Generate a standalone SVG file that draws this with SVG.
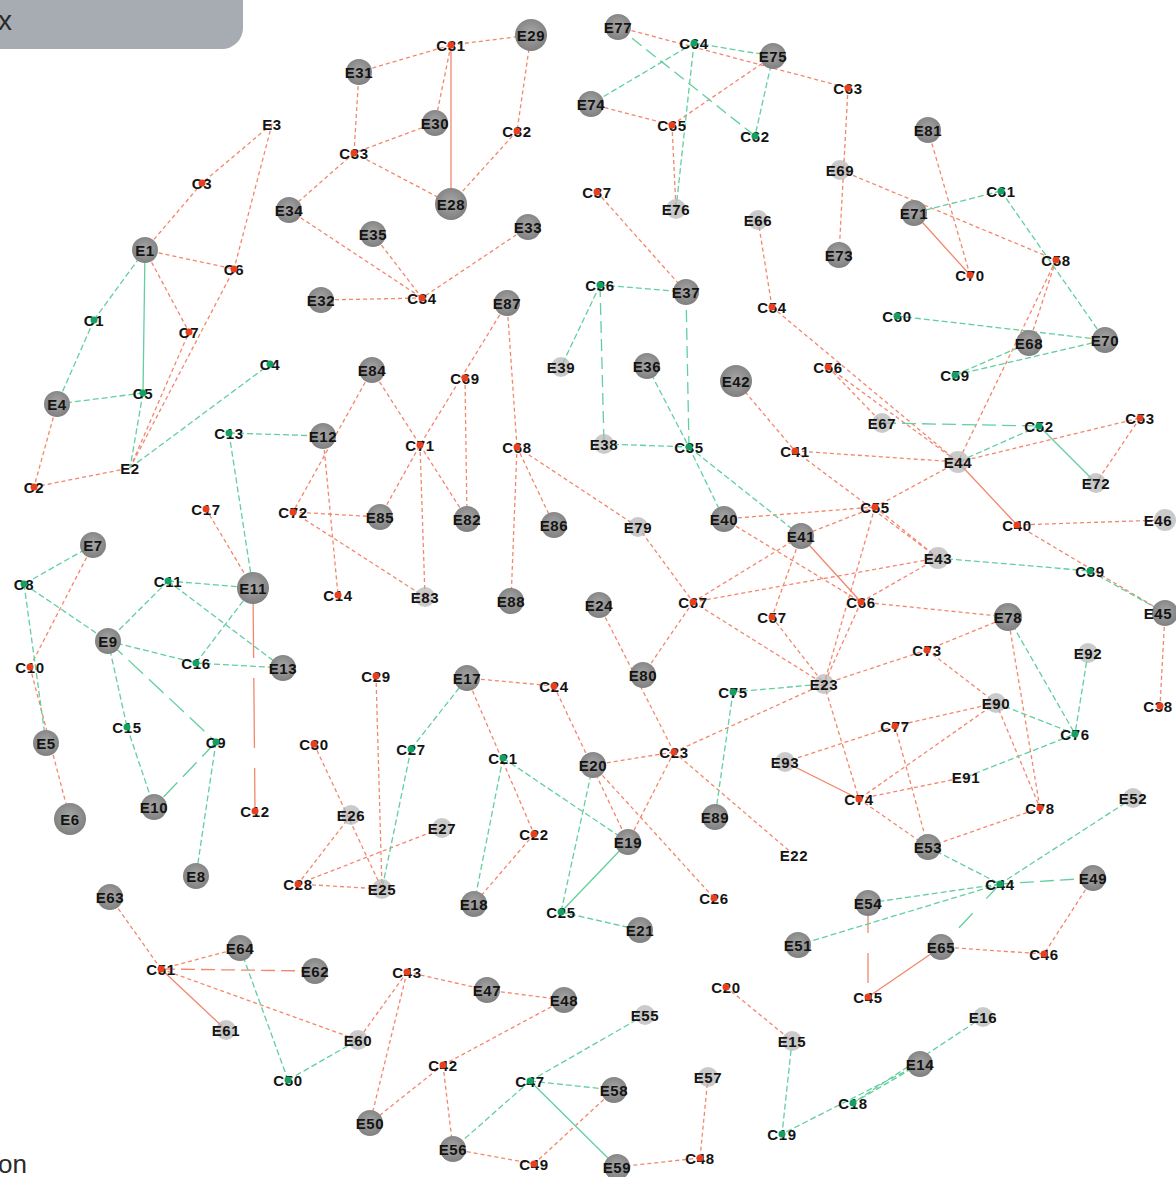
<svg xmlns="http://www.w3.org/2000/svg" width="1176" height="1177" viewBox="0 0 1176 1177">
<style>
text{font-family:"Liberation Sans",Arial,sans-serif;font-size:15px;font-weight:bold;fill:#141414;text-anchor:middle;dominant-baseline:central;letter-spacing:0.6px}
.cap{font-weight:normal;font-size:28px;fill:#2b2b2b;text-anchor:start;dominant-baseline:auto;letter-spacing:0}
#connectors line{stroke-width:1.3;fill:none}
.r{stroke:#f4866c;stroke-dasharray:4 3}
.g{stroke:#62cf9f;stroke-dasharray:6 3}
.s{stroke-dasharray:none}
.e{fill:url(#eg)}
.f{fill:#b4b4b4;opacity:.7}
.dr{fill:#e8401c}
.dg{fill:#14a060}
</style>
<defs>
<radialGradient id="eg" cx="50%" cy="45%" r="55%">
<stop offset="0" stop-color="#a8a8a8"/>
<stop offset="1" stop-color="#7f7f7f"/>
</radialGradient>
</defs>
<rect width="1176" height="1177" fill="#ffffff"/>
<g id="caption-box">
<path d="M0 0H243V28A21 21 0 0 1 222 49H0Z" fill="#a7acb2"/>
<text class="cap" x="-2" y="30">x</text>
</g>
<text class="cap" x="-2" y="1173" style="font-size:26px">on</text>
<g id="connectors">
<line class="r" x1="359" y1="72" x2="451" y2="45"/>
<line class="r" x1="451" y1="45" x2="531" y2="35"/>
<line class="r" x1="451" y1="45" x2="435" y2="123"/>
<line class="r s" x1="451" y1="45" x2="451" y2="204"/>
<line class="r" x1="531" y1="35" x2="517" y2="131"/>
<line class="r" x1="517" y1="131" x2="451" y2="204"/>
<line class="r" x1="435" y1="123" x2="354" y2="153"/>
<line class="r" x1="354" y1="153" x2="359" y2="72"/>
<line class="r" x1="354" y1="153" x2="451" y2="204"/>
<line class="r" x1="354" y1="153" x2="289" y2="210"/>
<line class="r" x1="289" y1="210" x2="422" y2="298"/>
<line class="r" x1="373" y1="234" x2="422" y2="298"/>
<line class="r" x1="528" y1="227" x2="422" y2="298"/>
<line class="r" x1="321" y1="300" x2="422" y2="298"/>
<line class="r" x1="272" y1="124" x2="202" y2="183"/>
<line class="r" x1="202" y1="183" x2="145" y2="250"/>
<line class="r" x1="272" y1="124" x2="234" y2="269"/>
<line class="r" x1="145" y1="250" x2="234" y2="269"/>
<line class="r" x1="145" y1="250" x2="189" y2="332"/>
<line class="r" x1="130" y1="468" x2="189" y2="332"/>
<line class="r" x1="130" y1="468" x2="234" y2="269"/>
<line class="r" x1="57" y1="404" x2="34" y2="487"/>
<line class="r" x1="34" y1="487" x2="130" y2="468"/>
<line class="r" x1="372" y1="370" x2="293" y2="512"/>
<line class="r" x1="323" y1="436" x2="338" y2="595"/>
<line class="r" x1="293" y1="512" x2="380" y2="517"/>
<line class="r" x1="293" y1="512" x2="425" y2="597"/>
<line class="r" x1="380" y1="517" x2="420" y2="445"/>
<line class="r" x1="372" y1="370" x2="420" y2="445"/>
<line class="r" x1="507" y1="303" x2="420" y2="445"/>
<line class="r" x1="465" y1="378" x2="467" y2="519"/>
<line class="r" x1="420" y1="445" x2="467" y2="519"/>
<line class="r" x1="420" y1="445" x2="425" y2="597"/>
<line class="r" x1="507" y1="303" x2="517" y2="447"/>
<line class="r" x1="517" y1="447" x2="511" y2="601"/>
<line class="r" x1="517" y1="447" x2="554" y2="525"/>
<line class="r" x1="517" y1="447" x2="638" y2="527"/>
<line class="r" x1="597" y1="192" x2="686" y2="292"/>
<line class="r" x1="736" y1="381" x2="795" y2="451"/>
<line class="r" x1="795" y1="451" x2="958" y2="462"/>
<line class="r" x1="795" y1="451" x2="938" y2="558"/>
<line class="r" x1="758" y1="220" x2="772" y2="307"/>
<line class="r" x1="772" y1="307" x2="958" y2="462"/>
<line class="r" x1="828" y1="367" x2="958" y2="462"/>
<line class="r" x1="828" y1="367" x2="882" y2="423"/>
<line class="r" x1="958" y1="462" x2="1140" y2="418"/>
<line class="r" x1="1140" y1="418" x2="1096" y2="483"/>
<line class="r" x1="1056" y1="260" x2="1029" y2="343"/>
<line class="r" x1="1056" y1="260" x2="958" y2="462"/>
<line class="r" x1="958" y1="462" x2="875" y2="507"/>
<line class="r s" x1="958" y1="462" x2="1017" y2="525"/>
<line class="r" x1="1017" y1="525" x2="1163" y2="520"/>
<line class="r" x1="1017" y1="525" x2="1165" y2="613"/>
<line class="r" x1="1165" y1="613" x2="1160" y2="706"/>
<line class="r" x1="840" y1="170" x2="1056" y2="260"/>
<line class="r s" x1="914" y1="213" x2="970" y2="275"/>
<line class="r" x1="928" y1="130" x2="970" y2="275"/>
<line class="r" x1="848" y1="88" x2="839" y2="255"/>
<line class="r" x1="618" y1="27" x2="848" y2="88"/>
<line class="r" x1="591" y1="104" x2="672" y2="125"/>
<line class="r" x1="672" y1="125" x2="773" y2="56"/>
<line class="r" x1="672" y1="125" x2="676" y2="209"/>
<line class="r" x1="206" y1="509" x2="253" y2="588"/>
<line class="r" x1="93" y1="545" x2="30" y2="667"/>
<line class="r" x1="30" y1="667" x2="70" y2="819"/>
<line class="r" style="stroke-dasharray:70 20" x1="253" y1="588" x2="255" y2="811"/>
<line class="r" x1="376" y1="676" x2="382" y2="889"/>
<line class="r" x1="314" y1="744" x2="382" y2="889"/>
<line class="r" x1="351" y1="815" x2="298" y2="884"/>
<line class="r" x1="298" y1="884" x2="382" y2="889"/>
<line class="r" x1="298" y1="884" x2="442" y2="828"/>
<line class="r" x1="467" y1="678" x2="554" y2="686"/>
<line class="r" x1="467" y1="678" x2="534" y2="834"/>
<line class="r" x1="534" y1="834" x2="474" y2="904"/>
<line class="r" x1="554" y1="686" x2="628" y2="842"/>
<line class="r" x1="593" y1="765" x2="674" y2="752"/>
<line class="r" x1="593" y1="765" x2="714" y2="898"/>
<line class="r" x1="674" y1="752" x2="628" y2="842"/>
<line class="r" x1="599" y1="605" x2="674" y2="752"/>
<line class="r" x1="693" y1="602" x2="643" y2="675"/>
<line class="r" x1="674" y1="752" x2="824" y2="684"/>
<line class="r" x1="674" y1="752" x2="794" y2="855"/>
<line class="r" x1="638" y1="527" x2="693" y2="602"/>
<line class="r" x1="693" y1="602" x2="801" y2="536"/>
<line class="r" x1="693" y1="602" x2="938" y2="558"/>
<line class="r" x1="693" y1="602" x2="824" y2="684"/>
<line class="r" x1="724" y1="519" x2="875" y2="507"/>
<line class="r" x1="724" y1="519" x2="861" y2="602"/>
<line class="r" x1="875" y1="507" x2="801" y2="536"/>
<line class="r s" x1="801" y1="536" x2="861" y2="602"/>
<line class="r" x1="801" y1="536" x2="772" y2="617"/>
<line class="r" x1="772" y1="617" x2="824" y2="684"/>
<line class="r" x1="875" y1="507" x2="824" y2="684"/>
<line class="r" x1="875" y1="507" x2="938" y2="558"/>
<line class="r" x1="861" y1="602" x2="938" y2="558"/>
<line class="r" x1="861" y1="602" x2="1008" y2="617"/>
<line class="r" x1="861" y1="602" x2="824" y2="684"/>
<line class="r" x1="1008" y1="617" x2="927" y2="650"/>
<line class="r" x1="927" y1="650" x2="824" y2="684"/>
<line class="r" x1="927" y1="650" x2="996" y2="703"/>
<line class="r" x1="1008" y1="617" x2="1040" y2="808"/>
<line class="r" x1="895" y1="726" x2="996" y2="703"/>
<line class="r" x1="895" y1="726" x2="785" y2="762"/>
<line class="r" x1="996" y1="703" x2="859" y2="799"/>
<line class="r" x1="996" y1="703" x2="1040" y2="808"/>
<line class="r" x1="895" y1="726" x2="928" y2="847"/>
<line class="r s" x1="785" y1="762" x2="859" y2="799"/>
<line class="r" x1="859" y1="799" x2="966" y2="777"/>
<line class="r" x1="859" y1="799" x2="928" y2="847"/>
<line class="r" x1="824" y1="684" x2="859" y2="799"/>
<line class="r" x1="1040" y1="808" x2="928" y2="847"/>
<line class="r" x1="1093" y1="878" x2="1044" y2="954"/>
<line class="r" x1="941" y1="947" x2="1044" y2="954"/>
<line class="r s" x1="941" y1="947" x2="868" y2="997"/>
<line class="r" style="stroke-dasharray:30 20" x1="868" y1="903" x2="868" y2="997"/>
<line class="r" x1="726" y1="987" x2="792" y2="1041"/>
<line class="r" x1="708" y1="1077" x2="700" y2="1158"/>
<line class="r" x1="700" y1="1158" x2="617" y2="1167"/>
<line class="r" x1="614" y1="1090" x2="534" y2="1164"/>
<line class="r" x1="453" y1="1149" x2="534" y2="1164"/>
<line class="r" x1="443" y1="1065" x2="453" y2="1149"/>
<line class="r" x1="443" y1="1065" x2="564" y2="1000"/>
<line class="r" x1="443" y1="1065" x2="370" y2="1123"/>
<line class="r" x1="407" y1="972" x2="487" y2="990"/>
<line class="r" x1="487" y1="990" x2="564" y2="1000"/>
<line class="r" x1="407" y1="972" x2="370" y2="1123"/>
<line class="r" x1="407" y1="972" x2="358" y2="1040"/>
<line class="r" x1="161" y1="969" x2="110" y2="897"/>
<line class="r" x1="161" y1="969" x2="240" y2="948"/>
<line class="r" style="stroke-dasharray:14 6" x1="161" y1="969" x2="315" y2="971"/>
<line class="r s" x1="161" y1="969" x2="226" y2="1030"/>
<line class="r" x1="161" y1="969" x2="358" y2="1040"/>
<line class="g s" x1="145" y1="250" x2="143" y2="393"/>
<line class="g" x1="145" y1="250" x2="94" y2="320"/>
<line class="g" x1="94" y1="320" x2="57" y2="404"/>
<line class="g" x1="57" y1="404" x2="143" y2="393"/>
<line class="g" x1="143" y1="393" x2="130" y2="468"/>
<line class="g" x1="130" y1="468" x2="270" y2="364"/>
<line class="g" x1="229" y1="433" x2="323" y2="436"/>
<line class="g" x1="229" y1="433" x2="253" y2="588"/>
<line class="g" x1="600" y1="285" x2="686" y2="292"/>
<line class="g" x1="600" y1="285" x2="561" y2="367"/>
<line class="g" style="stroke-dasharray:12 6" x1="600" y1="285" x2="604" y2="444"/>
<line class="g" x1="604" y1="444" x2="689" y2="447"/>
<line class="g" style="stroke-dasharray:12 6" x1="686" y1="292" x2="689" y2="447"/>
<line class="g" x1="647" y1="366" x2="689" y2="447"/>
<line class="g" x1="689" y1="447" x2="724" y2="519"/>
<line class="g" x1="689" y1="447" x2="801" y2="536"/>
<line class="g" style="stroke-dasharray:14 6" x1="882" y1="423" x2="1039" y2="426"/>
<line class="g" x1="1039" y1="426" x2="958" y2="462"/>
<line class="g s" x1="1039" y1="426" x2="1096" y2="483"/>
<line class="g" x1="897" y1="316" x2="1105" y2="340"/>
<line class="g" x1="955" y1="375" x2="1105" y2="340"/>
<line class="g" x1="955" y1="375" x2="1029" y2="343"/>
<line class="g" x1="1001" y1="191" x2="914" y2="213"/>
<line class="g" x1="1001" y1="191" x2="1105" y2="340"/>
<line class="g" x1="694" y1="43" x2="773" y2="56"/>
<line class="g" x1="694" y1="43" x2="591" y2="104"/>
<line class="g" x1="694" y1="43" x2="676" y2="209"/>
<line class="g" style="stroke-dasharray:12 6" x1="618" y1="27" x2="755" y2="136"/>
<line class="g" x1="773" y1="56" x2="755" y2="136"/>
<line class="g" x1="938" y1="558" x2="1090" y2="571"/>
<line class="g" x1="1090" y1="571" x2="1165" y2="613"/>
<line class="g" x1="93" y1="545" x2="24" y2="584"/>
<line class="g" x1="24" y1="584" x2="108" y2="641"/>
<line class="g" x1="24" y1="584" x2="46" y2="743"/>
<line class="g" x1="168" y1="581" x2="253" y2="588"/>
<line class="g" x1="168" y1="581" x2="283" y2="668"/>
<line class="g" x1="168" y1="581" x2="108" y2="641"/>
<line class="g" x1="108" y1="641" x2="196" y2="663"/>
<line class="g" x1="196" y1="663" x2="283" y2="668"/>
<line class="g" x1="196" y1="663" x2="253" y2="588"/>
<line class="g" x1="108" y1="641" x2="127" y2="727"/>
<line class="g" x1="127" y1="727" x2="154" y2="807"/>
<line class="g" style="stroke-dasharray:20 8" x1="108" y1="641" x2="216" y2="742"/>
<line class="g" style="stroke-dasharray:20 8" x1="216" y1="742" x2="154" y2="807"/>
<line class="g" x1="216" y1="742" x2="196" y2="876"/>
<line class="g" x1="411" y1="749" x2="467" y2="678"/>
<line class="g" x1="411" y1="749" x2="382" y2="889"/>
<line class="g" x1="503" y1="758" x2="628" y2="842"/>
<line class="g" x1="503" y1="758" x2="474" y2="904"/>
<line class="g" x1="593" y1="765" x2="561" y2="912"/>
<line class="g s" x1="561" y1="912" x2="628" y2="842"/>
<line class="g" x1="561" y1="912" x2="640" y2="930"/>
<line class="g" x1="733" y1="692" x2="824" y2="684"/>
<line class="g" x1="733" y1="692" x2="715" y2="817"/>
<line class="g" x1="1008" y1="617" x2="1075" y2="734"/>
<line class="g" x1="1088" y1="653" x2="1075" y2="734"/>
<line class="g" x1="996" y1="703" x2="1075" y2="734"/>
<line class="g" x1="966" y1="777" x2="1075" y2="734"/>
<line class="g" x1="1133" y1="798" x2="1000" y2="884"/>
<line class="g" style="stroke-dasharray:14 6" x1="1000" y1="884" x2="1093" y2="878"/>
<line class="g" x1="1000" y1="884" x2="868" y2="903"/>
<line class="g" x1="1000" y1="884" x2="798" y2="945"/>
<line class="g" style="stroke-dasharray:20 20" x1="1000" y1="884" x2="941" y2="947"/>
<line class="g" x1="928" y1="847" x2="1000" y2="884"/>
<line class="g" x1="983" y1="1017" x2="853" y2="1103"/>
<line class="g" x1="920" y1="1064" x2="782" y2="1134"/>
<line class="g" x1="920" y1="1064" x2="853" y2="1103"/>
<line class="g" x1="792" y1="1041" x2="782" y2="1134"/>
<line class="g s" x1="530" y1="1081" x2="617" y2="1167"/>
<line class="g" x1="530" y1="1081" x2="614" y2="1090"/>
<line class="g" x1="530" y1="1081" x2="645" y2="1015"/>
<line class="g" x1="530" y1="1081" x2="453" y2="1149"/>
<line class="g" x1="240" y1="948" x2="288" y2="1080"/>
<line class="g" x1="288" y1="1080" x2="358" y2="1040"/>
</g>
<g id="E1"><circle class="e" cx="145" cy="250" r="13"/><text x="145" y="250">E1</text></g>
<g id="E2"><text x="130" y="468">E2</text></g>
<g id="E3"><text x="272" y="124">E3</text></g>
<g id="E4"><circle class="e" cx="57" cy="404" r="13"/><text x="57" y="404">E4</text></g>
<g id="E5"><circle class="e" cx="46" cy="743" r="13"/><text x="46" y="743">E5</text></g>
<g id="E6"><circle class="e" cx="70" cy="819" r="16"/><text x="70" y="819">E6</text></g>
<g id="E7"><circle class="e" cx="93" cy="545" r="13"/><text x="93" y="545">E7</text></g>
<g id="E8"><circle class="e" cx="196" cy="876" r="13"/><text x="196" y="876">E8</text></g>
<g id="E9"><circle class="e" cx="108" cy="641" r="13"/><text x="108" y="641">E9</text></g>
<g id="E10"><circle class="e" cx="154" cy="807" r="13"/><text x="154" y="807">E10</text></g>
<g id="E11"><circle class="e" cx="253" cy="588" r="16"/><text x="253" y="588">E11</text></g>
<g id="E12"><circle class="e" cx="323" cy="436" r="13"/><text x="323" y="436">E12</text></g>
<g id="E13"><circle class="e" cx="283" cy="668" r="13"/><text x="283" y="668">E13</text></g>
<g id="E14"><circle class="e" cx="920" cy="1064" r="13"/><text x="920" y="1064">E14</text></g>
<g id="E15"><circle class="f" cx="792" cy="1041" r="10"/><text x="792" y="1041">E15</text></g>
<g id="E16"><circle class="f" cx="983" cy="1017" r="10"/><text x="983" y="1017">E16</text></g>
<g id="E17"><circle class="e" cx="467" cy="678" r="13"/><text x="467" y="678">E17</text></g>
<g id="E18"><circle class="e" cx="474" cy="904" r="13"/><text x="474" y="904">E18</text></g>
<g id="E19"><circle class="e" cx="628" cy="842" r="13"/><text x="628" y="842">E19</text></g>
<g id="E20"><circle class="e" cx="593" cy="765" r="13"/><text x="593" y="765">E20</text></g>
<g id="E21"><circle class="e" cx="640" cy="930" r="13"/><text x="640" y="930">E21</text></g>
<g id="E22"><text x="794" y="855">E22</text></g>
<g id="E23"><circle class="f" cx="824" cy="684" r="10"/><text x="824" y="684">E23</text></g>
<g id="E24"><circle class="e" cx="599" cy="605" r="13"/><text x="599" y="605">E24</text></g>
<g id="E25"><circle class="f" cx="382" cy="889" r="10"/><text x="382" y="889">E25</text></g>
<g id="E26"><circle class="f" cx="351" cy="815" r="10"/><text x="351" y="815">E26</text></g>
<g id="E27"><circle class="f" cx="442" cy="828" r="10"/><text x="442" y="828">E27</text></g>
<g id="E28"><circle class="e" cx="451" cy="204" r="16"/><text x="451" y="204">E28</text></g>
<g id="E29"><circle class="e" cx="531" cy="35" r="16"/><text x="531" y="35">E29</text></g>
<g id="E30"><circle class="e" cx="435" cy="123" r="13"/><text x="435" y="123">E30</text></g>
<g id="E31"><circle class="e" cx="359" cy="72" r="13"/><text x="359" y="72">E31</text></g>
<g id="E32"><circle class="e" cx="321" cy="300" r="13"/><text x="321" y="300">E32</text></g>
<g id="E33"><circle class="e" cx="528" cy="227" r="13"/><text x="528" y="227">E33</text></g>
<g id="E34"><circle class="e" cx="289" cy="210" r="13"/><text x="289" y="210">E34</text></g>
<g id="E35"><circle class="e" cx="373" cy="234" r="13"/><text x="373" y="234">E35</text></g>
<g id="E36"><circle class="e" cx="647" cy="366" r="13"/><text x="647" y="366">E36</text></g>
<g id="E37"><circle class="e" cx="686" cy="292" r="13"/><text x="686" y="292">E37</text></g>
<g id="E38"><circle class="f" cx="604" cy="444" r="10"/><text x="604" y="444">E38</text></g>
<g id="E39"><circle class="f" cx="561" cy="367" r="10"/><text x="561" y="367">E39</text></g>
<g id="E40"><circle class="e" cx="724" cy="519" r="13"/><text x="724" y="519">E40</text></g>
<g id="E41"><circle class="e" cx="801" cy="536" r="13"/><text x="801" y="536">E41</text></g>
<g id="E42"><circle class="e" cx="736" cy="381" r="16"/><text x="736" y="381">E42</text></g>
<g id="E43"><circle class="f" cx="938" cy="558" r="11"/><text x="938" y="558">E43</text></g>
<g id="E44"><circle class="f" cx="958" cy="462" r="11"/><text x="958" y="462">E44</text></g>
<g id="E45"><circle class="e" cx="1165" cy="613" r="13"/><text x="1158" y="613">E45</text></g>
<g id="E46"><circle class="f" cx="1165" cy="520" r="11"/><text x="1158" y="520">E46</text></g>
<g id="E47"><circle class="e" cx="487" cy="990" r="13"/><text x="487" y="990">E47</text></g>
<g id="E48"><circle class="e" cx="564" cy="1000" r="13"/><text x="564" y="1000">E48</text></g>
<g id="E49"><circle class="e" cx="1093" cy="878" r="13"/><text x="1093" y="878">E49</text></g>
<g id="E50"><circle class="e" cx="370" cy="1123" r="13"/><text x="370" y="1123">E50</text></g>
<g id="E51"><circle class="e" cx="798" cy="945" r="13"/><text x="798" y="945">E51</text></g>
<g id="E52"><circle class="f" cx="1133" cy="798" r="10"/><text x="1133" y="798">E52</text></g>
<g id="E53"><circle class="e" cx="928" cy="847" r="13"/><text x="928" y="847">E53</text></g>
<g id="E54"><circle class="e" cx="868" cy="903" r="13"/><text x="868" y="903">E54</text></g>
<g id="E55"><circle class="f" cx="645" cy="1015" r="10"/><text x="645" y="1015">E55</text></g>
<g id="E56"><circle class="e" cx="453" cy="1149" r="13"/><text x="453" y="1149">E56</text></g>
<g id="E57"><circle class="f" cx="708" cy="1077" r="10"/><text x="708" y="1077">E57</text></g>
<g id="E58"><circle class="e" cx="614" cy="1090" r="13"/><text x="614" y="1090">E58</text></g>
<g id="E59"><circle class="e" cx="617" cy="1167" r="13"/><text x="617" y="1167">E59</text></g>
<g id="E60"><circle class="f" cx="358" cy="1040" r="10"/><text x="358" y="1040">E60</text></g>
<g id="E61"><circle class="f" cx="226" cy="1030" r="10"/><text x="226" y="1030">E61</text></g>
<g id="E62"><circle class="e" cx="315" cy="971" r="13"/><text x="315" y="971">E62</text></g>
<g id="E63"><circle class="e" cx="110" cy="897" r="13"/><text x="110" y="897">E63</text></g>
<g id="E64"><circle class="e" cx="240" cy="948" r="13"/><text x="240" y="948">E64</text></g>
<g id="E65"><circle class="e" cx="941" cy="947" r="13"/><text x="941" y="947">E65</text></g>
<g id="E66"><circle class="f" cx="758" cy="220" r="10"/><text x="758" y="220">E66</text></g>
<g id="E67"><circle class="f" cx="882" cy="423" r="10"/><text x="882" y="423">E67</text></g>
<g id="E68"><circle class="e" cx="1029" cy="343" r="13"/><text x="1029" y="343">E68</text></g>
<g id="E69"><circle class="f" cx="840" cy="170" r="10"/><text x="840" y="170">E69</text></g>
<g id="E70"><circle class="e" cx="1105" cy="340" r="13"/><text x="1105" y="340">E70</text></g>
<g id="E71"><circle class="e" cx="914" cy="213" r="13"/><text x="914" y="213">E71</text></g>
<g id="E72"><circle class="f" cx="1096" cy="483" r="10"/><text x="1096" y="483">E72</text></g>
<g id="E73"><circle class="e" cx="839" cy="255" r="13"/><text x="839" y="255">E73</text></g>
<g id="E74"><circle class="e" cx="591" cy="104" r="13"/><text x="591" y="104">E74</text></g>
<g id="E75"><circle class="e" cx="773" cy="56" r="13"/><text x="773" y="56">E75</text></g>
<g id="E76"><circle class="f" cx="676" cy="209" r="10"/><text x="676" y="209">E76</text></g>
<g id="E77"><circle class="e" cx="618" cy="27" r="13"/><text x="618" y="27">E77</text></g>
<g id="E78"><circle class="e" cx="1008" cy="617" r="14"/><text x="1008" y="617">E78</text></g>
<g id="E79"><circle class="f" cx="638" cy="527" r="10"/><text x="638" y="527">E79</text></g>
<g id="E80"><circle class="e" cx="643" cy="675" r="13"/><text x="643" y="675">E80</text></g>
<g id="E81"><circle class="e" cx="928" cy="130" r="13"/><text x="928" y="130">E81</text></g>
<g id="E82"><circle class="e" cx="467" cy="519" r="13"/><text x="467" y="519">E82</text></g>
<g id="E83"><circle class="f" cx="425" cy="597" r="10"/><text x="425" y="597">E83</text></g>
<g id="E84"><circle class="e" cx="372" cy="370" r="13"/><text x="372" y="370">E84</text></g>
<g id="E85"><circle class="e" cx="380" cy="517" r="13"/><text x="380" y="517">E85</text></g>
<g id="E86"><circle class="e" cx="554" cy="525" r="13"/><text x="554" y="525">E86</text></g>
<g id="E87"><circle class="e" cx="507" cy="303" r="13"/><text x="507" y="303">E87</text></g>
<g id="E88"><circle class="e" cx="511" cy="601" r="13"/><text x="511" y="601">E88</text></g>
<g id="E89"><circle class="e" cx="715" cy="817" r="13"/><text x="715" y="817">E89</text></g>
<g id="E90"><circle class="f" cx="996" cy="703" r="10"/><text x="996" y="703">E90</text></g>
<g id="E91"><text x="966" y="777">E91</text></g>
<g id="E92"><circle class="f" cx="1088" cy="653" r="10"/><text x="1088" y="653">E92</text></g>
<g id="E93"><circle class="f" cx="785" cy="762" r="10"/><text x="785" y="762">E93</text></g>
<g id="C1"><text x="94" y="320">C1</text><circle class="dg" cx="94" cy="320" r="3.5"/></g>
<g id="C2"><text x="34" y="487">C2</text><circle class="dr" cx="34" cy="487" r="3.5"/></g>
<g id="C3"><text x="202" y="183">C3</text><circle class="dr" cx="202" cy="183" r="3.5"/></g>
<g id="C4"><text x="270" y="364">C4</text><circle class="dg" cx="270" cy="364" r="3.5"/></g>
<g id="C5"><text x="143" y="393">C5</text><circle class="dg" cx="143" cy="393" r="3.5"/></g>
<g id="C6"><text x="234" y="269">C6</text><circle class="dr" cx="234" cy="269" r="3.5"/></g>
<g id="C7"><text x="189" y="332">C7</text><circle class="dr" cx="189" cy="332" r="3.5"/></g>
<g id="C8"><text x="24" y="584">C8</text><circle class="dg" cx="24" cy="584" r="3.5"/></g>
<g id="C9"><text x="216" y="742">C9</text><circle class="dg" cx="216" cy="742" r="3.5"/></g>
<g id="C10"><text x="30" y="667">C10</text><circle class="dr" cx="30" cy="667" r="3.5"/></g>
<g id="C11"><text x="168" y="581">C11</text><circle class="dg" cx="168" cy="581" r="3.5"/></g>
<g id="C12"><text x="255" y="811">C12</text><circle class="dr" cx="255" cy="811" r="3.5"/></g>
<g id="C13"><text x="229" y="433">C13</text><circle class="dg" cx="229" cy="433" r="3.5"/></g>
<g id="C14"><text x="338" y="595">C14</text><circle class="dr" cx="338" cy="595" r="3.5"/></g>
<g id="C15"><text x="127" y="727">C15</text><circle class="dg" cx="127" cy="727" r="3.5"/></g>
<g id="C16"><text x="196" y="663">C16</text><circle class="dg" cx="196" cy="663" r="3.5"/></g>
<g id="C17"><text x="206" y="509">C17</text><circle class="dr" cx="206" cy="509" r="3.5"/></g>
<g id="C18"><text x="853" y="1103">C18</text><circle class="dg" cx="853" cy="1103" r="3.5"/></g>
<g id="C19"><text x="782" y="1134">C19</text><circle class="dg" cx="782" cy="1134" r="3.5"/></g>
<g id="C20"><text x="726" y="987">C20</text><circle class="dr" cx="726" cy="987" r="3.5"/></g>
<g id="C21"><text x="503" y="758">C21</text><circle class="dg" cx="503" cy="758" r="3.5"/></g>
<g id="C22"><text x="534" y="834">C22</text><circle class="dr" cx="534" cy="834" r="3.5"/></g>
<g id="C23"><text x="674" y="752">C23</text><circle class="dr" cx="674" cy="752" r="3.5"/></g>
<g id="C24"><text x="554" y="686">C24</text><circle class="dr" cx="554" cy="686" r="3.5"/></g>
<g id="C25"><text x="561" y="912">C25</text><circle class="dg" cx="561" cy="912" r="3.5"/></g>
<g id="C26"><text x="714" y="898">C26</text><circle class="dr" cx="714" cy="898" r="3.5"/></g>
<g id="C27"><text x="411" y="749">C27</text><circle class="dg" cx="411" cy="749" r="3.5"/></g>
<g id="C28"><text x="298" y="884">C28</text><circle class="dr" cx="298" cy="884" r="3.5"/></g>
<g id="C29"><text x="376" y="676">C29</text><circle class="dr" cx="376" cy="676" r="3.5"/></g>
<g id="C30"><text x="314" y="744">C30</text><circle class="dr" cx="314" cy="744" r="3.5"/></g>
<g id="C31"><text x="451" y="45">C31</text><circle class="dr" cx="451" cy="45" r="3.5"/></g>
<g id="C32"><text x="517" y="131">C32</text><circle class="dr" cx="517" cy="131" r="3.5"/></g>
<g id="C33"><text x="354" y="153">C33</text><circle class="dr" cx="354" cy="153" r="3.5"/></g>
<g id="C34"><text x="422" y="298">C34</text><circle class="dr" cx="422" cy="298" r="3.5"/></g>
<g id="C35"><text x="689" y="447">C35</text><circle class="dg" cx="689" cy="447" r="3.5"/></g>
<g id="C36"><text x="600" y="285">C36</text><circle class="dg" cx="600" cy="285" r="3.5"/></g>
<g id="C37"><text x="597" y="192">C37</text><circle class="dr" cx="597" cy="192" r="3.5"/></g>
<g id="C38"><text x="1158" y="706">C38</text><circle class="dr" cx="1160" cy="706" r="3.5"/></g>
<g id="C39"><text x="1090" y="571">C39</text><circle class="dg" cx="1090" cy="571" r="3.5"/></g>
<g id="C40"><text x="1017" y="525">C40</text><circle class="dr" cx="1017" cy="525" r="3.5"/></g>
<g id="C41"><text x="795" y="451">C41</text><circle class="dr" cx="795" cy="451" r="3.5"/></g>
<g id="C42"><text x="443" y="1065">C42</text><circle class="dr" cx="443" cy="1065" r="3.5"/></g>
<g id="C43"><text x="407" y="972">C43</text><circle class="dr" cx="407" cy="972" r="3.5"/></g>
<g id="C44"><text x="1000" y="884">C44</text><circle class="dg" cx="1000" cy="884" r="3.5"/></g>
<g id="C45"><text x="868" y="997">C45</text><circle class="dr" cx="868" cy="997" r="3.5"/></g>
<g id="C46"><text x="1044" y="954">C46</text><circle class="dr" cx="1044" cy="954" r="3.5"/></g>
<g id="C47"><text x="530" y="1081">C47</text><circle class="dg" cx="530" cy="1081" r="3.5"/></g>
<g id="C48"><text x="700" y="1158">C48</text><circle class="dr" cx="700" cy="1158" r="3.5"/></g>
<g id="C49"><text x="534" y="1164">C49</text><circle class="dr" cx="534" cy="1164" r="3.5"/></g>
<g id="C50"><text x="288" y="1080">C50</text><circle class="dg" cx="288" cy="1080" r="3.5"/></g>
<g id="C51"><text x="161" y="969">C51</text><circle class="dr" cx="161" cy="969" r="3.5"/></g>
<g id="C52"><text x="1039" y="426">C52</text><circle class="dg" cx="1039" cy="426" r="3.5"/></g>
<g id="C53"><text x="1140" y="418">C53</text><circle class="dr" cx="1140" cy="418" r="3.5"/></g>
<g id="C54"><text x="772" y="307">C54</text><circle class="dr" cx="772" cy="307" r="3.5"/></g>
<g id="C55"><text x="875" y="507">C55</text><circle class="dr" cx="875" cy="507" r="3.5"/></g>
<g id="C56"><text x="828" y="367">C56</text><circle class="dr" cx="828" cy="367" r="3.5"/></g>
<g id="C57"><text x="772" y="617">C57</text><circle class="dr" cx="772" cy="617" r="3.5"/></g>
<g id="C58"><text x="1056" y="260">C58</text><circle class="dr" cx="1056" cy="260" r="3.5"/></g>
<g id="C59"><text x="955" y="375">C59</text><circle class="dg" cx="955" cy="375" r="3.5"/></g>
<g id="C60"><text x="897" y="316">C60</text><circle class="dg" cx="897" cy="316" r="3.5"/></g>
<g id="C61"><text x="1001" y="191">C61</text><circle class="dg" cx="1001" cy="191" r="3.5"/></g>
<g id="C62"><text x="755" y="136">C62</text><circle class="dg" cx="755" cy="136" r="3.5"/></g>
<g id="C63"><text x="848" y="88">C63</text><circle class="dr" cx="848" cy="88" r="3.5"/></g>
<g id="C64"><text x="694" y="43">C64</text><circle class="dg" cx="694" cy="43" r="3.5"/></g>
<g id="C65"><text x="672" y="125">C65</text><circle class="dr" cx="672" cy="125" r="3.5"/></g>
<g id="C66"><text x="861" y="602">C66</text><circle class="dr" cx="861" cy="602" r="3.5"/></g>
<g id="C67"><text x="693" y="602">C67</text><circle class="dr" cx="693" cy="602" r="3.5"/></g>
<g id="C68"><text x="517" y="447">C68</text><circle class="dr" cx="517" cy="447" r="3.5"/></g>
<g id="C69"><text x="465" y="378">C69</text><circle class="dr" cx="465" cy="378" r="3.5"/></g>
<g id="C70"><text x="970" y="275">C70</text><circle class="dr" cx="970" cy="275" r="3.5"/></g>
<g id="C71"><text x="420" y="445">C71</text><circle class="dr" cx="420" cy="445" r="3.5"/></g>
<g id="C72"><text x="293" y="512">C72</text><circle class="dr" cx="293" cy="512" r="3.5"/></g>
<g id="C73"><text x="927" y="650">C73</text><circle class="dr" cx="927" cy="650" r="3.5"/></g>
<g id="C74"><text x="859" y="799">C74</text><circle class="dr" cx="859" cy="799" r="3.5"/></g>
<g id="C75"><text x="733" y="692">C75</text><circle class="dg" cx="733" cy="692" r="3.5"/></g>
<g id="C76"><text x="1075" y="734">C76</text><circle class="dg" cx="1075" cy="734" r="3.5"/></g>
<g id="C77"><text x="895" y="726">C77</text><circle class="dr" cx="895" cy="726" r="3.5"/></g>
<g id="C78"><text x="1040" y="808">C78</text><circle class="dr" cx="1040" cy="808" r="3.5"/></g>
</svg>
